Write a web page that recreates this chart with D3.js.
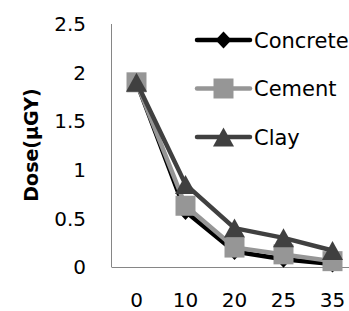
<!DOCTYPE html>
<html>
<head>
<meta charset="utf-8">
<script src="https://cdn.jsdelivr.net/npm/d3@7"></script>
<style>
  body { margin: 0; background: #fff; }
  text { font-family: "DejaVu Sans", sans-serif; }
</style>
</head>
<body>
<svg id="chart" width="349" height="311"></svg>
<script>
const categories = ['0', '10', '20', '25', '35'];
const concrete = [1.9, 0.57, 0.16, 0.08, 0.03];
const cement = [1.9, 0.63, 0.2, 0.13, 0.06];
const clay = [1.9, 0.85, 0.4, 0.3, 0.17];
const yTicks = [0, 0.5, 1, 1.5, 2, 2.5];

// marker shapes centred on their bounding box, like spreadsheet markers
const diamond = (w, h) => ({ draw (ctx) {
  ctx.moveTo(0, -h / 2); ctx.lineTo(w / 2, 0); ctx.lineTo(0, h / 2); ctx.lineTo(-w / 2, 0); ctx.closePath();
} });
const square = s => ({ draw (ctx) {
  ctx.rect(-s / 2, -s / 2, s, s);
} });
const triangle = (w, h) => ({ draw (ctx) {
  ctx.moveTo(0, -h / 2); ctx.lineTo(w / 2, h / 2); ctx.lineTo(-w / 2, h / 2); ctx.closePath();
} });

const series = [
  { name: 'Concrete', values: concrete, color: '#000000', symbol: diamond(16, 17) },
  { name: 'Cement', values: cement, color: '#969696', symbol: square(20) },
  { name: 'Clay', values: clay, color: '#404040', symbol: triangle(21, 19) }
];

const svg = d3.select('#chart');
const plot = { left: 112, right: 357, top: 24, bottom: 267 };

const x = d3.scaleBand().domain(categories).range([plot.left, plot.right]);
const y = d3.scaleLinear().domain([0, 2.5]).range([plot.bottom, plot.top]);
const cx = d => x(d) + x.bandwidth() / 2;

// axes
svg.append('line')
  .attr('x1', plot.left - 0.5).attr('x2', plot.left - 0.5)
  .attr('y1', plot.top).attr('y2', plot.bottom)
  .attr('stroke', '#868686').attr('stroke-width', 1);
svg.append('line')
  .attr('x1', plot.left - 0.5).attr('x2', 349)
  .attr('y1', plot.bottom + 0.5).attr('y2', plot.bottom + 0.5)
  .attr('stroke', '#868686').attr('stroke-width', 1);

svg.append('g').selectAll('text').data(yTicks).join('text')
  .attr('x', 86).attr('y', d => y(d))
  .attr('dy', '0.36em').attr('text-anchor', 'end')
  .attr('font-size', 20).attr('fill', '#000')
  .text(d => d);

svg.append('g').selectAll('text').data(categories).join('text')
  .attr('x', d => cx(d)).attr('y', 300)
  .attr('dy', '0.36em').attr('text-anchor', 'middle')
  .attr('font-size', 20).attr('fill', '#000')
  .text(d => d);

svg.append('text')
  .attr('transform', 'translate(31,145) rotate(-90)')
  .attr('text-anchor', 'middle').attr('dy', '0.36em')
  .attr('font-size', 19).attr('font-weight', 'bold')
  .text('Dose(μGY)');

// series in order, later ones on top
const line = d3.line().x((d, i) => cx(categories[i])).y(d => y(d));
series.forEach(s => {
  svg.append('path')
    .attr('d', line(s.values))
    .attr('fill', 'none').attr('stroke', s.color)
    .attr('stroke-width', 4.5).attr('stroke-linejoin', 'round');
  svg.append('g').selectAll('path').data(s.values).join('path')
    .attr('transform', (d, i) => `translate(${cx(categories[i])},${y(d)})`)
    .attr('d', d3.symbol().type(s.symbol))
    .attr('fill', s.color);
});

// legend
const legend = svg.append('g');
series.forEach((s, i) => {
  const ly = 40 + i * 48.5;
  legend.append('line')
    .attr('x1', 197).attr('x2', 250).attr('y1', ly).attr('y2', ly)
    .attr('stroke', s.color).attr('stroke-width', 4.5).attr('stroke-linecap', 'round');
  legend.append('path')
    .attr('transform', `translate(223.5,${ly})`)
    .attr('d', d3.symbol().type(s.symbol))
    .attr('fill', s.color);
  legend.append('text')
    .attr('x', 254).attr('y', ly).attr('dy', '0.36em')
    .attr('font-size', 21).attr('fill', '#000')
    .text(s.name);
});
</script>
</body>
</html>
